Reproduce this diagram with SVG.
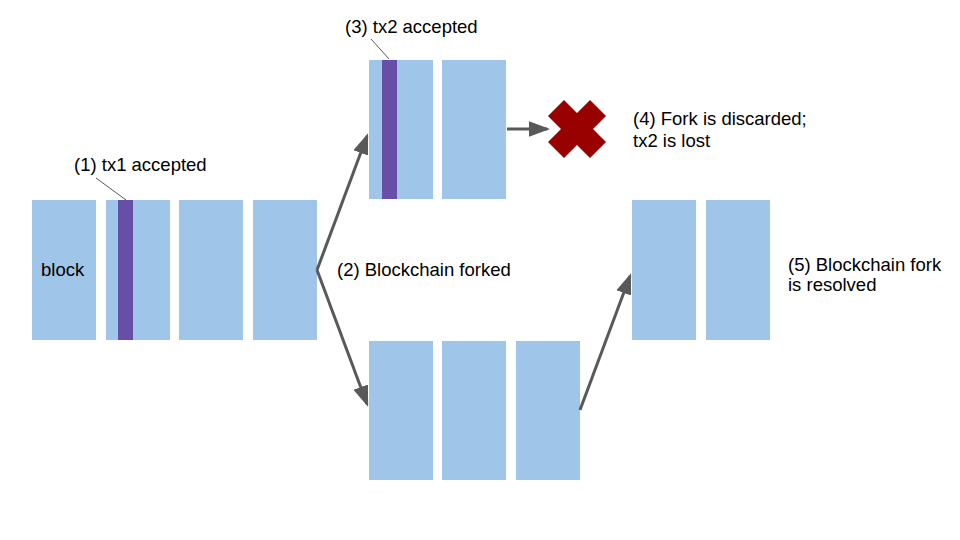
<svg xmlns="http://www.w3.org/2000/svg" width="960" height="540" viewBox="0 0 960 540">
<defs>
<style>
.blk{fill:#9fc5e8}
.tx{fill:#674ea7}
.lbl{font-family:"Liberation Sans",Arial,sans-serif;font-size:18.5px;fill:#000}
.conn{stroke:#595959;stroke-width:3;fill:none}
.lead{stroke:#595959;stroke-width:1;fill:none}
</style>
<marker id="ah" markerWidth="8" markerHeight="8" refX="6" refY="4" orient="auto" markerUnits="strokeWidth" viewBox="0 0 8 8">
<path d="M0,1.4 L7,4 L0,6.6 z" fill="#595959"/>
</marker>
</defs>
<rect width="960" height="540" fill="#fff"/>
<g id="main-chain">
<g id="b1"><rect class="blk" x="32" y="200" width="64" height="140"/><text class="lbl" x="41" y="276">block</text></g>
<g id="b2"><rect class="blk" x="106" y="200" width="64" height="140"/><rect class="tx" x="118" y="200" width="15" height="140"/></g>
<g id="b3"><rect class="blk" x="179" y="200" width="64" height="140"/></g>
<g id="b4"><rect class="blk" x="253" y="200" width="64" height="140"/></g>
</g>
<g id="top-chain">
<g id="t1"><rect class="blk" x="369" y="60" width="64" height="139"/><rect class="tx" x="382" y="60" width="15" height="139"/></g>
<g id="t2"><rect class="blk" x="442" y="60" width="64" height="139"/></g>
</g>
<g id="bottom-chain">
<g id="m1"><rect class="blk" x="369" y="341" width="64" height="139"/></g>
<g id="m2"><rect class="blk" x="442" y="341" width="64" height="139"/></g>
<g id="m3"><rect class="blk" x="516" y="341" width="64" height="139"/></g>
</g>
<g id="right-chain">
<g id="r1"><rect class="blk" x="632" y="200" width="64" height="140"/></g>
<g id="r2"><rect class="blk" x="706" y="200" width="64" height="140"/></g>
</g>
<g id="cross"><polygon fill="#990000" points="548,116 564,100 577,113 590,100 606,116 593,129 606,142 590,158 577,145 564,158 548,142 561,129"/></g>
<g id="connectors">
<line class="conn" x1="317" y1="270" x2="367" y2="136" marker-end="url(#ah)"/>
<line class="conn" x1="317" y1="270" x2="367" y2="404" marker-end="url(#ah)"/>
<line class="conn" x1="580" y1="410" x2="630" y2="276" marker-end="url(#ah)"/>
<line class="conn" x1="507" y1="129" x2="547" y2="129" marker-end="url(#ah)"/>
<line class="lead" x1="96" y1="178" x2="126" y2="200"/>
<line class="lead" x1="371" y1="39" x2="389" y2="59"/>
</g>
<g id="labels">
<text class="lbl" x="74" y="171">(1) tx1 accepted</text>
<text class="lbl" x="345" y="33">(3) tx2 accepted</text>
<text class="lbl" x="337" y="276">(2) Blockchain forked</text>
<text class="lbl" x="633" y="125">(4) Fork is discarded;</text>
<text class="lbl" x="633" y="147">tx2 is lost</text>
<text class="lbl" x="788" y="271">(5) Blockchain fork</text>
<text class="lbl" x="788" y="291">is resolved</text>
</g>
</svg>
